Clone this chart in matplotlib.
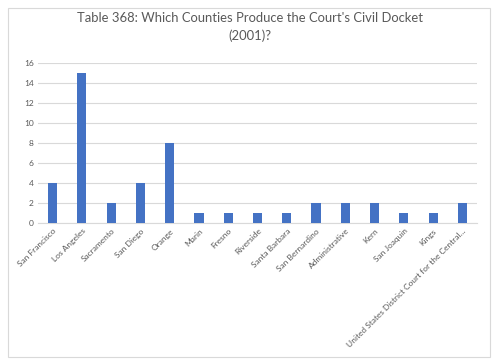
import matplotlib.pyplot as plt
from matplotlib.patches import Rectangle

plt.rcParams['font.family'] = ['Lato', 'DejaVu Sans']

# data
counties = ["San Francisco", "Los Angeles", "Sacramento", "San Diego", "Orange",
            "Marin", "Fresno", "Riverside", "Santa Barbara", "San Bernardino",
            "Administrative", "Kern", "San Joaquin", "Kings",
            "United States District Court for the Central..."]
counts = [4, 15, 2, 4, 8, 1, 1, 1, 1, 2, 2, 2, 1, 1, 2]
yticks = [0, 2, 4, 6, 8, 10, 12, 14, 16]

text_color = "#595959"
grid_color = "#d9d9d9"

fig = plt.figure(figsize=(5, 3.64), dpi=100)
fig.patches.append(Rectangle((0.016, 0.019), 0.964, 0.958, transform=fig.transFigure,
                             fill=False, edgecolor=grid_color, linewidth=0.8))
ax = fig.add_axes([0.076, 0.387, 0.878, 0.44])

x = range(len(counties))
ax.bar(x, counts, width=0.31, color="#4472c4", zorder=3)
ax.set_xlim(-0.5, len(counties) - 0.5)
ax.set_ylim(0, 16)
ax.set_yticks(yticks)
ax.grid(axis="y", color=grid_color, linewidth=0.8, zorder=0)
for s in ax.spines.values():
    s.set_visible(False)
ax.spines["bottom"].set_visible(True)
ax.spines["bottom"].set_color(grid_color)
ax.tick_params(length=0, labelsize=6, colors=text_color, pad=3)
ax.set_xticks(list(x))
ax.set_xticklabels(counties, rotation=45, ha="right", rotation_mode="anchor")

fig.suptitle("Table 368: Which Counties Produce the Court's Civil Docket\n(2001)?",
             y=0.968, fontsize=9.4, color=text_color, linespacing=1.55)

plt.savefig("out.png", dpi=100)
plt.close()
